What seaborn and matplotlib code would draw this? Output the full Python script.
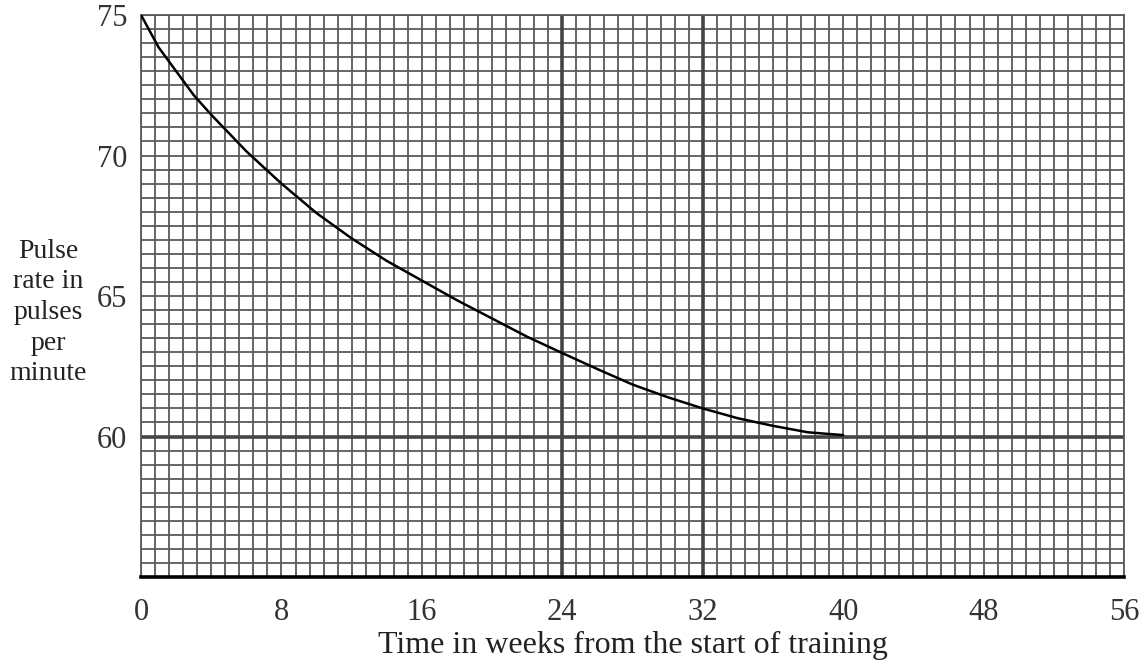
import numpy as np
import pandas as pd
import matplotlib
matplotlib.use('Agg')
import matplotlib.pyplot as plt
from matplotlib.ticker import MultipleLocator
import seaborn as sns

# values
weeks = [0, 1, 2, 3, 4, 5, 6, 8, 10, 12, 14, 16, 18, 20, 22, 24, 26, 28, 30, 32, 34, 36, 38, 40]
pulse = [75, 73.85, 73.0, 72.15, 71.45, 70.8, 70.15, 69.0, 67.95, 67.05, 66.25, 65.55, 64.85,
         64.2, 63.55, 62.97, 62.4, 61.85, 61.4, 61.0, 60.65, 60.38, 60.15, 60.05]

x_ticks = [0, 8, 16, 24, 32, 40, 48, 56]
y_ticks = [60, 65, 70, 75]
bold_x = [24, 32]
bold_y = [60]

df = pd.DataFrame({'Week': weeks, 'Pulse': pulse})

sns.set_style('white')
plt.rcParams['font.family'] = ['Liberation Serif', 'DejaVu Serif']

fig = plt.figure(figsize=(11.44, 6.65), dpi=100)
ax = fig.add_axes([0.1233, 0.1323, 0.8592, 0.8451])

grid_col = '#5a5a5a'
ax.set_xlim(0, 56)
ax.set_ylim(55, 75)
ax.set_xticks(x_ticks)
ax.set_yticks(y_ticks)
ax.xaxis.set_minor_locator(MultipleLocator(0.8))
ax.yaxis.set_minor_locator(MultipleLocator(0.5))
ax.grid(which='both', color=grid_col, linewidth=1.3, zorder=1)
ax.set_axisbelow(True)

for xv in bold_x:
    ax.axvline(xv, color='#444444', linewidth=2.6, zorder=2)
for yv in bold_y:
    ax.axhline(yv, color='#444444', linewidth=2.6, zorder=2)

sns.lineplot(data=df, x='Week', y='Pulse', ax=ax, color='black', linewidth=1.8, zorder=3)

for side in ['top', 'right', 'left']:
    ax.spines[side].set_color(grid_col)
    ax.spines[side].set_linewidth(1.3)
ax.spines['bottom'].set_color('black')
ax.spines['bottom'].set_linewidth(2.6)

ax.tick_params(which='minor', length=0)
ax.tick_params(axis='x', which='major', direction='out', length=8, width=1.3,
               color='#333333', labelsize=22, pad=7, labelcolor='#333333')
ax.tick_params(axis='y', which='major', direction='out', length=8, width=1.3,
               color='#333333', labelsize=22, pad=2, labelcolor='#333333')
for t, v in zip(ax.xaxis.get_major_ticks(), x_ticks):
    if v in bold_x:
        t.tick1line.set_markeredgewidth(3)
        t.tick1line.set_color('black')
for t, v in zip(ax.yaxis.get_major_ticks(), y_ticks):
    if v in bold_y:
        t.tick1line.set_markeredgewidth(3)
        t.tick1line.set_color('black')

ax.set_xlabel('Time in weeks from the start of training', fontsize=23, color='#222222', labelpad=3)
ax.set_ylabel('')
fig.text(0.042, 0.53, 'Pulse\nrate in\npulses\nper\nminute', fontsize=20, color='#222222',
         ha='center', va='center', linespacing=1.3)

fig.savefig('out.png', dpi=100, facecolor='white')
